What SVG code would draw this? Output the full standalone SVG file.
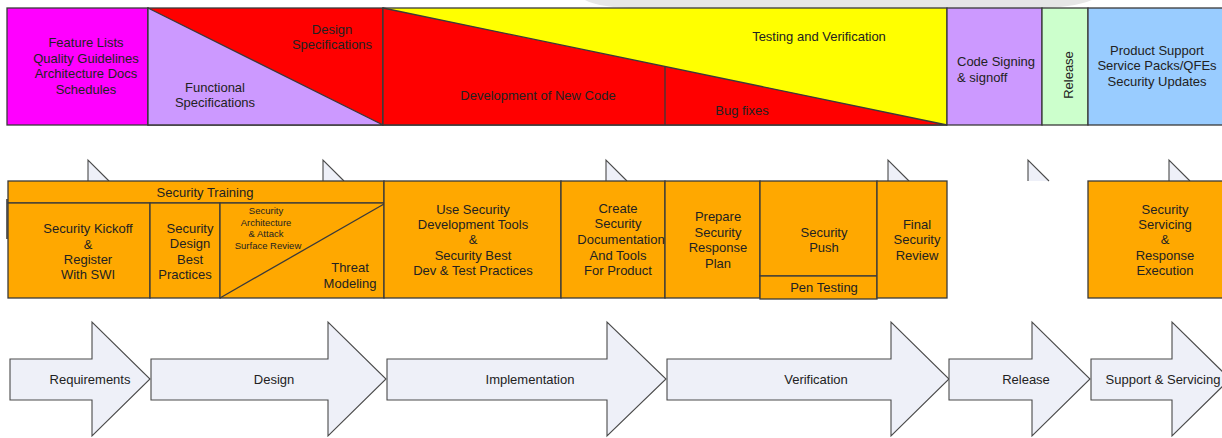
<svg xmlns="http://www.w3.org/2000/svg" width="1222" height="438" viewBox="0 0 1222 438">
  <style>
    text { font-family: "Liberation Sans", Arial, sans-serif; font-size: 13px; fill: #222; text-anchor: middle; dominant-baseline: central; }
    .small { font-size: 9.5px; }
    .left { text-anchor: start; }
    .edge { stroke: #3a3a3a; stroke-width: 1.3; }
    .phase { fill: #eef0f8; stroke: #4a4a4a; stroke-width: 1.1; }
    .tab { fill: #eef0f8; stroke: #4a4a4a; stroke-width: 1.1; }
    .task { fill: #ffa800; stroke: #3a3a3a; stroke-width: 1.3; }
  </style>

  <rect width="1222" height="438" fill="#ffffff"/>

  <!-- soft grey swoosh above the top band -->
  <path d="M585,0 Q600,8 640,8 L1035,8 Q1072,8 1092,0 Z" fill="#e6e6e6"/>

  <!-- top band: deliverables per phase -->
  <g id="deliverables-requirements">
    <rect x="7" y="8" width="141" height="117" fill="#ff00ff" class="edge"/>
    <text x="86" y="42">Feature Lists</text>
    <text x="86" y="58">Quality Guidelines</text>
    <text x="86" y="73">Architecture Docs</text>
    <text x="86" y="89">Schedules</text>
  </g>

  <g id="deliverables-design">
    <rect x="148" y="8" width="235" height="117" fill="#ff0000" class="edge"/>
    <polygon points="148,8 383,125 148,125" fill="#cc99ff" class="edge"/>
    <text x="332" y="29">Design</text>
    <text x="332" y="44">Specifications</text>
    <text x="215" y="87">Functional</text>
    <text x="215" y="102">Specifications</text>
  </g>

  <g id="deliverables-implementation">
    <rect x="383" y="8" width="564" height="117" fill="#ffff00" class="edge"/>
    <polygon points="383,8 947,125 383,125" fill="#ff0000" class="edge"/>
    <line x1="665" y1="66.5" x2="665" y2="125" class="edge"/>
    <text x="819" y="36">Testing and Verification</text>
    <text x="538" y="95">Development of New Code</text>
    <text x="742" y="110">Bug fixes</text>
  </g>

  <g id="deliverables-signoff">
    <rect x="947" y="8" width="95" height="117" fill="#cc99ff" class="edge"/>
    <text x="957" y="61" class="left">Code Signing</text>
    <text x="957" y="77" class="left">&amp; signoff</text>
  </g>

  <g id="deliverables-release">
    <rect x="1042" y="8" width="46" height="117" fill="#ccffcc" class="edge"/>
    <text x="1068" y="75" transform="rotate(-90 1068 75)">Release</text>
  </g>

  <g id="deliverables-support">
    <rect x="1088" y="8" width="140" height="117" fill="#99ccff" class="edge"/>
    <text x="1157" y="50">Product Support</text>
    <text x="1157" y="65">Service Packs/QFEs</text>
    <text x="1157" y="81">Security Updates</text>
  </g>

  <!-- arrow-head tabs peeking above the security task row -->
  <g id="tabs">
    <path d="M88,181 L88,160 L109,181" class="tab"/>
    <path d="M323,181 L323,160 L344,181" class="tab"/>
    <path d="M606,181 L606,160 L627,181" class="tab"/>
    <path d="M888,181 L888,160 L909,181" class="tab"/>
    <path d="M1028,181 L1028,160 L1049,181" class="tab"/>
    <path d="M1169,181 L1169,160 L1190,181" class="tab"/>
  </g>

  <!-- middle band: security activities -->
  <line x1="7" y1="199" x2="7" y2="239" stroke="#666" stroke-width="2"/>

  <g id="security-training">
    <rect x="8" y="181" width="376" height="22" class="task"/>
    <text x="205" y="192">Security Training</text>
  </g>

  <g id="security-kickoff">
    <rect x="8" y="203" width="142" height="95" class="task"/>
    <text x="88" y="228">Security Kickoff</text>
    <text x="88" y="244">&amp;</text>
    <text x="88" y="259">Register</text>
    <text x="88" y="274">With SWI</text>
  </g>

  <g id="security-design-practices">
    <rect x="150" y="203" width="70" height="95" class="task"/>
    <text x="190" y="228">Security</text>
    <text x="190" y="243">Design</text>
    <text x="190" y="259">Best</text>
    <text x="185" y="274">Practices</text>
  </g>

  <g id="threat-modeling">
    <rect x="220" y="203" width="164" height="95" class="task"/>
    <line x1="220" y1="298" x2="384" y2="204" class="edge"/>
    <text x="266" y="210" class="small">Security</text>
    <text x="266" y="222" class="small">Architecture</text>
    <text x="266" y="233" class="small">&amp; Attack</text>
    <text x="268" y="245" class="small">Surface Review</text>
    <text x="350" y="267">Threat</text>
    <text x="350" y="283">Modeling</text>
  </g>

  <g id="dev-tools">
    <rect x="384" y="181" width="177" height="117" class="task"/>
    <text x="473" y="209">Use Security</text>
    <text x="473" y="224">Development Tools</text>
    <text x="473" y="239">&amp;</text>
    <text x="473" y="255">Security Best</text>
    <text x="473" y="270">Dev &amp;  Test Practices</text>
  </g>

  <g id="security-docs">
    <rect x="561" y="181" width="104" height="117" class="task"/>
    <text x="618" y="208">Create</text>
    <text x="618" y="223">Security</text>
    <text x="621" y="239">Documentation</text>
    <text x="618" y="255">And Tools</text>
    <text x="618" y="270">For Product</text>
  </g>

  <g id="response-plan">
    <rect x="665" y="181" width="95" height="117" class="task"/>
    <text x="718" y="216">Prepare</text>
    <text x="718" y="232">Security</text>
    <text x="718" y="247">Response</text>
    <text x="718" y="263">Plan</text>
  </g>

  <g id="security-push">
    <rect x="760" y="181" width="117" height="95" class="task"/>
    <text x="824" y="232">Security</text>
    <text x="824" y="247">Push</text>
  </g>

  <g id="pen-testing">
    <rect x="760" y="276" width="117" height="23" class="task"/>
    <text x="824" y="287">Pen Testing</text>
  </g>

  <g id="final-review">
    <rect x="877" y="181" width="70" height="117" class="task"/>
    <text x="917" y="224">Final</text>
    <text x="917" y="239">Security</text>
    <text x="917" y="255">Review</text>
  </g>

  <g id="security-servicing">
    <rect x="1088" y="181" width="140" height="117" class="task"/>
    <text x="1165" y="209">Security</text>
    <text x="1165" y="224">Servicing</text>
    <text x="1165" y="239">&amp;</text>
    <text x="1165" y="255">Response</text>
    <text x="1165" y="270">Execution</text>
  </g>

  <!-- bottom band: process phases as block arrows -->
  <g id="connectors">
    <g id="phase-requirements">
      <polygon points="10,359 92,359 92,322 150,379 92,436 92,400 10,400" class="phase"/>
      <text x="90" y="379">Requirements</text>
    </g>
    <g id="phase-design">
      <polygon points="151,359 328,359 328,322 386,379 328,436 328,400 151,400" class="phase"/>
      <text x="274" y="379">Design</text>
    </g>
    <g id="phase-implementation">
      <polygon points="387,359 607,359 607,322 666,379 607,436 607,400 387,400" class="phase"/>
      <text x="530" y="379">Implementation</text>
    </g>
    <g id="phase-verification">
      <polygon points="667,359 891,359 891,322 949,379 891,436 891,400 667,400" class="phase"/>
      <text x="816" y="379">Verification</text>
    </g>
    <g id="phase-release">
      <polygon points="949,359 1032,359 1032,322 1090,379 1032,436 1032,400 949,400" class="phase"/>
      <text x="1026" y="379">Release</text>
    </g>
    <g id="phase-support">
      <polygon points="1091,359 1172,359 1172,322 1230,379 1172,436 1172,400 1091,400" class="phase"/>
      <text x="1163" y="379">Support &amp; Servicing</text>
    </g>
  </g>
</svg>
